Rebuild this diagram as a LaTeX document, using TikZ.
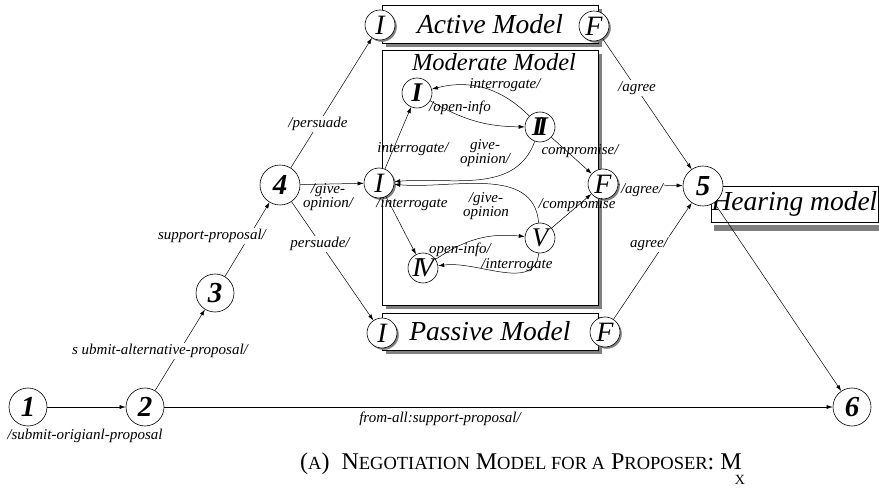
\documentclass[tikz,border=0pt]{standalone}
\usepackage{fontspec}
\setmainfont{Liberation Serif}
\usetikzlibrary{arrows.meta,shadows}
\begin{document}
\begin{tikzpicture}[x=1pt,y=-1pt,
  numnode/.style={circle,draw,fill=white,inner sep=0pt,minimum size=#1,line width=0.6pt,
     font=\fontsize{29}{29}\selectfont\bfseries\itshape},
  subnode/.style={circle,draw,fill=white,inner sep=0pt,minimum size=30pt,line width=0.6pt,
     font=\fontsize{28}{28}\selectfont\itshape,
     drop shadow={shadow xshift=1.8pt,shadow yshift=-1.8pt,fill=gray,opacity=1}},
  innode/.style={circle,draw,fill=white,inner sep=0pt,minimum size=30pt,line width=0.6pt,
     font=\fontsize{27}{27}\selectfont\itshape},
  modelbox/.style={draw,fill=white,inner sep=0pt,line width=0.6pt,
     font=\fontsize{27.5}{27.5}\selectfont\itshape,
     drop shadow={shadow xshift=4pt,shadow yshift=-4pt,fill=gray,opacity=1}},
  arr/.style={-{Latex[length=6pt,width=4pt]},line width=0.5pt},
  lbl/.style={font=\fontsize{15}{10}\selectfont\itshape,inner sep=0.5pt,align=center},
  olbl/.style={font=\fontsize{15}{11}\selectfont\itshape,inner sep=1pt,fill=white,align=center},
  nlbl/.style={font=\fontsize{15}{11}\selectfont\itshape,inner sep=1pt,align=center}
]
\useasboundingbox (0,0) rectangle (879,489);

% model boxes
\node[modelbox,minimum width=216pt,minimum height=38pt] (active) at (490,24) {Active Model};
\node[modelbox,minimum width=216pt,minimum height=255pt] (moderate) at (490,177.5) {};
\node[modelbox,minimum width=216pt,minimum height=37pt] (passive) at (490,331.5) {Passive Model};
\node[font=\fontsize{24.5}{24.5}\selectfont\itshape,inner sep=0pt] (modtitle) at (494,62) {Moderate Model};

% hearing model box
\fill[gray] (714,225) rectangle (879,231);
\node[draw,fill=white,line width=0.6pt,inner sep=0pt,minimum width=167pt,minimum height=36pt,
      font=\fontsize{27.5}{27.5}\selectfont\itshape] (hearing) at (794.5,204) {Hearing model};

% main states
\node[numnode=38pt] (n1) at (28,407) {1};
\node[numnode=38pt] (n2) at (145,407) {2};
\node[numnode=38pt] (n3) at (215,293) {3};
\node[numnode=40pt] (n4) at (280,185) {4};
\node[numnode=40pt] (n5) at (703,186) {5};
\node[numnode=38pt] (n6) at (852,407) {6};

% I/F of submodels
\node[subnode] (aI) at (380,25) {I};
\node[subnode] (aF) at (594,26) {F};
\node[subnode] (mI) at (379,183) {I};
\node[subnode] (mF) at (603,184) {F};
\node[subnode] (pI) at (382,333) {I};
\node[subnode] (pF) at (605,332) {F};

% inner states
\node[innode,font=\fontsize{27}{27}\selectfont\bfseries\itshape] (iI) at (417,93) {I};
\node[innode,font=\fontsize{27}{27}\selectfont\bfseries\itshape] (iII) at (540,127) {I\kern-5.5ptI};
\node[innode] (iV) at (540,238) {V};
\node[innode] (iIV) at (423,268) {I\kern-4ptV};

% main edges
\draw[arr] (n1) -- (n2);
\draw[arr] (n2) -- (n3);
\draw[arr] (n3) -- (n4);
\draw[arr] (n4) -- (aI);
\draw[arr] (n4) -- (mI);
\draw[arr] (n4) -- (pI);
\draw[arr] (aF) -- (n5);
\draw[arr] (mF) -- (n5);
\draw[arr] (pF) -- (n5);
\draw[arr] (n5) -- (n6);
\draw[arr] (n2) -- (n6);

% inner edges
\draw[arr] (mI) -- (iI);
\draw[arr] (iI) to[bend right=15] (iII);
\draw[arr] (iII) to[bend right=30] (iI);
\draw[arr] (iII) to[out=250,in=5] (mI.5);
\draw[arr] (iII) -- (mF);
\draw[arr] (mI) -- (iIV);
\draw[arr] (iV) to[out=95,in=-5] (mI.-5);
\draw[arr] (iIV) to[bend left=20] (iV);
\draw[arr] (iV) to[out=265,in=8] (iIV);
\draw[arr] (iV) -- (mF);

% outer labels
\node[nlbl] (l1) at (85,436) {/submit-origianl-proposal};
\node[olbl] (l2) at (160,351) {s ubmit-alternative-proposal/};
\node[olbl] (l3) at (212,236) {support-proposal/};
\node[olbl] (l4) at (318,124) {/persuade};
\node[nlbl,font=\fontsize{15}{10}\selectfont\itshape] (l5) at (328,197) {/give-\\opinion/};
\node[olbl] (l6) at (320,244) {persuade/};
\node[olbl] (l7) at (637,88) {/agree};
\node[olbl] (l8) at (642,190) {/agree/};
\node[olbl] (l9) at (649,244) {agree/};
\node[nlbl] (l10) at (440,419) {from-all:support-proposal/};

% inner labels
\node[lbl] (k1) at (505,85) {interrogate/};
\node[lbl] (k2) at (460,108) {/open-info};
\node[lbl] (k3) at (413,149) {interrogate/};
\node[lbl,font=\fontsize{15}{9}\selectfont\itshape] (k4) at (485,153) {give-\\opinion/};
\node[lbl] (k5) at (580,151) {compromise/};
\node[lbl] (k6) at (412,204) {/interrogate};
\node[lbl,font=\fontsize{15}{9}\selectfont\itshape] (k7) at (486,206) {/give-\\opinion};
\node[lbl] (k8) at (577,205) {/compromise};
\node[lbl] (k9) at (460,250) {open-info/};
\node[lbl] (k10) at (517,265) {/interrogate};

% caption
\node[anchor=base west,inner sep=0pt,font=\fontsize{24}{24}\selectfont] (cap) at (300,469)
  {({\fontsize{18.5}{18.5}\selectfont A})\enspace N{\fontsize{18.5}{18.5}\selectfont EGOTIATION} M{\fontsize{18.5}{18.5}\selectfont ODEL FOR A} P{\fontsize{18.5}{18.5}\selectfont ROPOSER}: M};
\node[anchor=base,inner sep=0pt,font=\fontsize{14}{14}\selectfont] (capx) at (740,484) {X};
\end{tikzpicture}
\end{document}
